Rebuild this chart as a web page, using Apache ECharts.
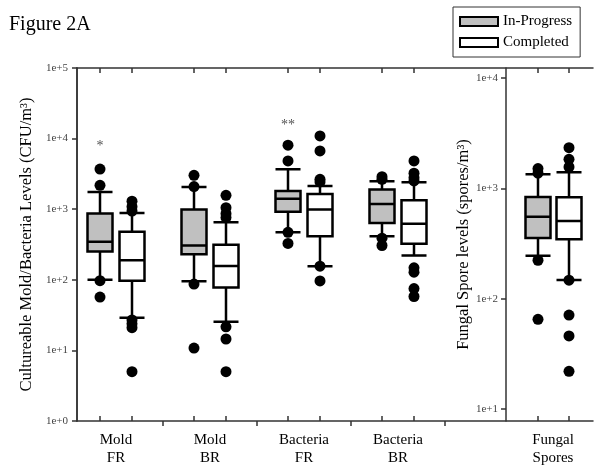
<!DOCTYPE html>
<html><head><meta charset="utf-8">
<script src="https://cdn.jsdelivr.net/npm/echarts@6/dist/echarts.min.js"></script>
<style>html,body{margin:0;padding:0;background:#fff}#c{width:601px;height:470px}</style>
</head><body><div id="c"></div>
<script>
// ---------- data ----------
const categories = ['Mold\nFR', 'Mold\nBR', 'Bacteria\nFR', 'Bacteria\nBR'];
const sporeCategories = ['Fungal\nSpores'];
const seriesNames = ['In-Progress', 'Completed'];
// boxplot: [lower whisker, Q1, median, Q3, upper whisker]
const inProgressBoxes = [
  [100, 251, 345, 871, 1750],
  [95, 230, 306, 993, 2060],
  [473, 921, 1409, 1808, 3670],
  [415, 635, 1183, 1900, 2480]
];
const completedBoxes = [
  [29, 97, 189, 479, 881],
  [25.5, 78, 157, 313, 656],
  [156, 415, 993, 1640, 2130],
  [221, 324, 622, 1334, 2400]
];
const inProgressOutliers = [
  [0, 3700], [0, 2180], [0, 97], [0, 57],
  [1, 3020], [1, 2090], [1, 87], [1, 10.8],
  [2, 8060], [2, 4820], [2, 470], [2, 327],
  [3, 2890], [3, 2650], [3, 389], [3, 306]
];
const completedOutliers = [
  [0, 1300], [0, 1085], [0, 940], [0, 27], [0, 23.8], [0, 21], [0, 5.0],
  [1, 1570], [1, 1050], [1, 863], [1, 760], [1, 21.6], [1, 14.5], [1, 5.0],
  [2, 10900], [2, 6680], [2, 2650], [2, 2430], [2, 156], [2, 96.5],
  [3, 4820], [3, 3230], [3, 2800], [3, 2510], [3, 148], [3, 128], [3, 75], [3, 58]
];
const sporeInProgressBox = [[245, 355, 553, 834, 1340]];
const sporeCompletedBox = [[147.5, 345, 506, 830, 1397]];
const sporeInProgressOutliers = [[0, 1508], [0, 1370], [0, 223], [0, 65]];
const sporeCompletedOutliers = [[0, 2333], [0, 1830], [0, 1560], [0, 147], [0, 71], [0, 46], [0, 22]];
const significanceMarks = [[0, 7800, '*'], [2, 15500, '**']];
const leftRange = [1, 100000];
const rightRange = [7.8, 12300];

// ---------- chart ----------
const FONT = '"Liberation Serif","Times New Roman",serif';
const LINE = '#333';
const FILL_IP = '#c0c0c0', FILL_C = '#ffffff';
const chart = echarts.init(document.getElementById('c'), null, {renderer: 'canvas'});
const logFmt = v => '1e+' + Math.round(Math.log10(v));

function hiddenCat(gridIndex, data, position) {
  return {
    type: 'category', gridIndex, data, position: position || 'bottom',
    axisLine: {show: false},
    axisTick: {show: true, inside: true, alignWithLabel: true, length: 5, lineStyle: {color: LINE, width: 1.5}},
    axisLabel: {show: false}, splitLine: {show: false}
  };
}
function hiddenLog(gridIndex, range) {
  return {type: 'log', gridIndex, min: range[0], max: range[1], show: false, splitLine: {show: false}};
}
const gTop = 68, gH = 353;
const boxStyle = (fill) => ({color: fill, borderColor: '#000', borderWidth: 2.5});
const boxSeries = (name, xi, yi, data, fill) => ({
  type: 'boxplot', name, xAxisIndex: xi, yAxisIndex: yi, data,
  boxWidth: [25, 25], itemStyle: boxStyle(fill), silent: true,
  emphasis: {disabled: true}
});
const outSeries = (name, xi, yi, data) => ({
  type: 'scatter', name, xAxisIndex: xi, yAxisIndex: yi, data,
  symbol: 'circle', symbolSize: 11, itemStyle: {color: '#000', opacity: 1}, silent: true, z: 5
});

const option = {
  animation: false,
  backgroundColor: '#fff',
  title: {text: 'Figure 2A', left: 4, top: 10, textStyle: {fontFamily: FONT, fontSize: 20, fontWeight: 'normal', color: '#000'}},
  legend: {
    data: [
      {name: seriesNames[0], itemStyle: {color: FILL_IP, borderColor: '#000', borderWidth: 2}},
      {name: seriesNames[1], itemStyle: {color: FILL_C, borderColor: '#000', borderWidth: 2}}
    ],
    orient: 'vertical', left: 453, top: 7,
    icon: 'rect', itemWidth: 38, itemHeight: 9, itemGap: 6,
    padding: [7, 8, 7, 6], borderColor: '#333', borderWidth: 1,
    textStyle: {fontFamily: FONT, fontSize: 15, color: '#000'},
    selectedMode: false
  },
  grid: [
    {left: 77, top: gTop, width: 516, height: gH},
    {left: 69, top: gTop, width: 376, height: gH},
    {left: 53, top: gTop, width: 376, height: gH},
    {left: 85, top: gTop, width: 376, height: gH},
    {left: 506, top: gTop, width: 94, height: gH},
    {left: 507, top: gTop, width: 62, height: gH},
    {left: 538, top: gTop, width: 62, height: gH}
  ],
  xAxis: [
    {type: 'value', gridIndex: 0, min: 0, max: 1, position: 'bottom', axisLine: {show: true, lineStyle: {color: LINE, width: 1.5}}, axisTick: {show: false}, axisLabel: {show: false}, splitLine: {show: false}},
    {type: 'value', gridIndex: 0, min: 0, max: 1, position: 'top', axisLine: {show: true, lineStyle: {color: LINE, width: 1.5}}, axisTick: {show: false}, axisLabel: {show: false}, splitLine: {show: false}},
    {type: 'category', gridIndex: 1, data: categories, axisLine: {show: false},
      axisTick: {show: true, length: 5, interval: (i) => i !== 0, lineStyle: {color: LINE, width: 1.5}},
      axisLabel: {fontFamily: FONT, fontSize: 15, color: '#000', lineHeight: 18, margin: 10}, splitLine: {show: false}},
    hiddenCat(2, categories),
    hiddenCat(3, categories),
    {type: 'category', gridIndex: 4, data: sporeCategories, axisLine: {show: false}, axisTick: {show: false},
      axisLabel: {fontFamily: FONT, fontSize: 15, color: '#000', lineHeight: 18, margin: 10}, splitLine: {show: false}},
    hiddenCat(5, sporeCategories),
    hiddenCat(6, sporeCategories),
    hiddenCat(2, categories, 'top'),
    hiddenCat(3, categories, 'top'),
    hiddenCat(5, sporeCategories, 'top'),
    hiddenCat(6, sporeCategories, 'top')
  ],
  yAxis: [
    {type: 'value', gridIndex: 0, min: 0, max: 1, position: 'right', axisLine: {show: true, lineStyle: {color: LINE, width: 1.5}}, axisTick: {show: false}, axisLabel: {show: false}, splitLine: {show: false}},
    {type: 'log', gridIndex: 1, min: leftRange[0], max: leftRange[1], offset: -8,
      axisLine: {show: true, lineStyle: {color: LINE, width: 1.5}},
      axisTick: {show: true, length: 5, lineStyle: {color: LINE, width: 1.5}},
      axisLabel: {formatter: logFmt, fontFamily: FONT, fontSize: 11, color: '#444', margin: 9},
      minorTick: {show: false}, splitLine: {show: false},
      name: 'Cultureable Mold/Bacteria Levels (CFU/m³)', nameLocation: 'middle', nameGap: 31,
      nameTextStyle: {fontFamily: FONT, fontSize: 16.5, color: '#000'}},
    hiddenLog(2, leftRange),
    hiddenLog(3, leftRange),
    {type: 'log', gridIndex: 4, min: rightRange[0], max: rightRange[1],
      axisLine: {show: true, lineStyle: {color: LINE, width: 1.5}},
      axisTick: {show: true, length: 5, lineStyle: {color: LINE, width: 1.5}},
      axisLabel: {formatter: logFmt, fontFamily: FONT, fontSize: 11, color: '#444', margin: 8, showMinLabel: false, showMaxLabel: false},
      splitLine: {show: false},
      name: 'Fungal Spore levels (spores/m³)', nameLocation: 'middle', nameGap: 31,
      nameTextStyle: {fontFamily: FONT, fontSize: 16.5, color: '#000'}},
    hiddenLog(5, rightRange),
    hiddenLog(6, rightRange)
  ],
  series: [
    boxSeries('In-Progress', 3, 2, inProgressBoxes, FILL_IP),
    boxSeries('Completed', 4, 3, completedBoxes, FILL_C),
    boxSeries('In-Progress', 6, 5, sporeInProgressBox, FILL_IP),
    boxSeries('Completed', 7, 6, sporeCompletedBox, FILL_C),
    outSeries('In-Progress outliers', 3, 2, inProgressOutliers),
    outSeries('Completed outliers', 4, 3, completedOutliers),
    outSeries('In-Progress spore outliers', 6, 5, sporeInProgressOutliers),
    outSeries('Completed spore outliers', 7, 6, sporeCompletedOutliers),
    {type: 'scatter', name: 'significance', xAxisIndex: 3, yAxisIndex: 2,
      data: significanceMarks, symbolSize: 0, silent: true,
      label: {show: true, position: 'inside', formatter: p => p.data[2], fontFamily: FONT, fontSize: 14, color: '#222'}}
  ]
};
chart.setOption(option);
</script></body></html>
